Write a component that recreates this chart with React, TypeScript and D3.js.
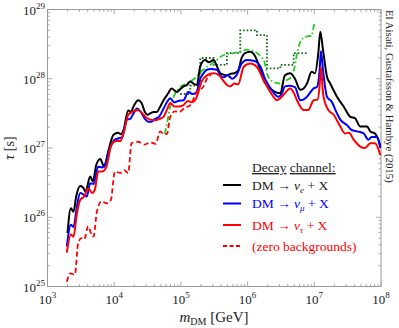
import React from "react"
import * as d3 from "d3"

// log10(m_DM / GeV), log10(tau / s)
const NU_E: [number, number][] = [
  [3.30, 25.77], [3.35, 26.13], [3.39, 26.08], [3.43, 26.30], [3.49, 26.45], [3.54, 26.42],
  [3.57, 26.37], [3.64, 26.59], [3.68, 26.52], [3.73, 26.75], [3.79, 26.84], [3.85, 26.73],
  [3.91, 26.95], [3.99, 27.19], [4.06, 27.22], [4.10, 27.20], [4.14, 27.26], [4.21, 27.54],
  [4.25, 27.52], [4.29, 27.60], [4.36, 27.69], [4.41, 27.65], [4.46, 27.52], [4.50, 27.48],
  [4.54, 27.50], [4.59, 27.52], [4.64, 27.52], [4.68, 27.58], [4.74, 27.69], [4.81, 27.79],
  [4.86, 27.86], [4.94, 27.81], [4.99, 27.85], [5.04, 27.89], [5.09, 27.91], [5.14, 27.96],
  [5.19, 27.93], [5.24, 27.91], [5.29, 28.18], [5.36, 28.27], [5.42, 28.24], [5.49, 28.27],
  [5.54, 28.18], [5.59, 28.08], [5.64, 28.06], [5.69, 28.05], [5.74, 28.07], [5.80, 28.08],
  [5.86, 28.12], [5.91, 28.30], [5.96, 28.37], [6.04, 28.39], [6.11, 28.33], [6.19, 28.13],
  [6.24, 27.98], [6.31, 27.89], [6.41, 27.81], [6.49, 27.79], [6.56, 28.05], [6.64, 28.08],
  [6.71, 28.00], [6.79, 27.84], [6.84, 27.86], [6.89, 27.93], [6.96, 28.10], [7.01, 28.08],
  [7.06, 28.37], [7.09, 28.68], [7.13, 28.42], [7.19, 28.03], [7.24, 27.93], [7.34, 27.74],
  [7.44, 27.60], [7.54, 27.45], [7.61, 27.43], [7.69, 27.31], [7.79, 27.31], [7.84, 27.24],
  [7.91, 27.21], [7.96, 27.12], [7.99, 27.02],
]

const NU_MU: [number, number][] = [
  [3.29, 25.58], [3.35, 25.89], [3.39, 25.86], [3.44, 26.15], [3.49, 26.35], [3.55, 26.32],
  [3.59, 26.30], [3.64, 26.49], [3.69, 26.48], [3.76, 26.73], [3.82, 26.72], [3.87, 26.78],
  [3.94, 27.00], [4.01, 27.12], [4.07, 27.14], [4.12, 27.16], [4.19, 27.41], [4.24, 27.42],
  [4.29, 27.50], [4.34, 27.57], [4.40, 27.52], [4.46, 27.42], [4.51, 27.38], [4.56, 27.38],
  [4.61, 27.42], [4.67, 27.45], [4.74, 27.57], [4.79, 27.66], [4.84, 27.72], [4.90, 27.66],
  [4.96, 27.68], [5.04, 27.69], [5.11, 27.81], [5.17, 27.78], [5.23, 27.80], [5.29, 28.00],
  [5.34, 28.08], [5.39, 28.13], [5.45, 28.14], [5.54, 28.13], [5.59, 28.05], [5.64, 28.02],
  [5.70, 28.05], [5.77, 28.00], [5.84, 28.06], [5.91, 28.22], [5.99, 28.27], [6.09, 28.26],
  [6.19, 28.18], [6.26, 28.00], [6.36, 27.84], [6.46, 27.74], [6.51, 27.78], [6.56, 27.89],
  [6.63, 27.90], [6.71, 27.88], [6.79, 27.69], [6.84, 27.70], [6.89, 27.74], [6.99, 27.86],
  [7.04, 27.88], [7.08, 28.13], [7.10, 28.40], [7.13, 28.13], [7.19, 27.74], [7.26, 27.67],
  [7.34, 27.50], [7.39, 27.41], [7.49, 27.33], [7.56, 27.26], [7.64, 27.24], [7.74, 27.21],
  [7.81, 27.12], [7.86, 27.16], [7.94, 27.16], [7.99, 27.00],
]

const NU_TAU: [number, number][] = [
  [3.29, 25.49], [3.35, 25.75], [3.39, 25.72], [3.44, 26.05], [3.49, 26.25], [3.55, 26.30],
  [3.61, 26.42], [3.67, 26.35], [3.71, 26.40], [3.76, 26.66], [3.82, 26.66], [3.88, 26.72],
  [3.96, 27.05], [4.03, 27.10], [4.09, 27.10], [4.15, 27.25], [4.21, 27.48], [4.27, 27.52],
  [4.36, 27.55], [4.42, 27.50], [4.48, 27.44], [4.54, 27.41], [4.61, 27.40], [4.68, 27.42],
  [4.74, 27.45], [4.79, 27.55], [4.84, 27.65], [4.90, 27.60], [4.96, 27.60], [5.04, 27.62],
  [5.10, 27.68], [5.16, 27.66], [5.23, 27.72], [5.31, 27.96], [5.39, 28.05], [5.49, 28.08],
  [5.56, 28.06], [5.63, 27.98], [5.69, 27.91], [5.74, 27.89], [5.80, 27.93], [5.86, 27.92],
  [5.94, 28.17], [6.04, 28.22], [6.14, 28.17], [6.24, 27.98], [6.34, 27.81], [6.44, 27.69],
  [6.49, 27.72], [6.54, 27.77], [6.64, 27.86], [6.69, 27.80], [6.74, 27.69], [6.84, 27.55],
  [6.91, 27.55], [6.99, 27.69], [7.05, 27.70], [7.08, 27.90], [7.10, 28.17], [7.13, 27.80],
  [7.15, 27.69], [7.21, 27.55], [7.29, 27.48], [7.39, 27.31], [7.46, 27.21], [7.52, 27.22],
  [7.59, 27.12], [7.69, 27.02], [7.76, 27.00], [7.84, 27.07], [7.91, 27.07], [7.99, 26.90],
]

const NU_TAU_ZERO_BG: [number, number][] = [
  [3.29, 25.07], [3.34, 25.19], [3.41, 25.17], [3.46, 25.63], [3.51, 25.70], [3.55, 25.68],
  [3.61, 25.87], [3.66, 25.75], [3.69, 25.72], [3.74, 26.08], [3.81, 26.23], [3.89, 26.20],
  [3.95, 26.25], [4.01, 26.66], [4.09, 26.64], [4.15, 26.68], [4.21, 26.64], [4.26, 27.07],
  [4.36, 27.09], [4.45, 27.05], [4.55, 27.08], [4.62, 27.06], [4.69, 27.24], [4.74, 27.20],
  [4.79, 27.20], [4.84, 27.45], [4.91, 27.53], [4.97, 27.52], [5.06, 27.58], [5.14, 27.62],
  [5.24, 27.81], [5.34, 27.89], [5.39, 28.00], [5.45, 28.05],
]

const OTHER_LIGHT: [number, number][] = [
  [4.76, 27.20], [4.80, 27.40], [4.84, 27.60], [4.90, 27.76], [4.99, 27.88], [5.10, 27.94],
  [5.20, 28.00], [5.29, 28.09], [5.40, 28.18], [5.50, 28.24], [5.60, 28.32], [5.70, 28.36],
  [5.80, 28.37], [5.90, 28.40], [5.99, 28.42], [6.09, 28.40], [6.19, 28.33], [6.25, 28.25],
  [6.30, 28.05], [6.36, 27.97], [6.43, 27.94], [6.50, 27.93], [6.56, 27.97], [6.65, 28.02],
  [6.70, 28.15], [6.75, 28.40], [6.80, 28.55], [6.88, 28.61], [6.96, 28.62], [6.99, 28.75],
  [7.01, 28.82],
]

const OTHER_DARK: [number, number][] = [
  [4.99, 27.78], [5.14, 27.90], [5.29, 28.30], [5.49, 28.20], [5.69, 28.37], [5.89, 28.70],
  [6.14, 28.63], [6.29, 28.15], [6.49, 28.20], [6.69, 28.37], [6.89, 28.37],
]

const X_EXPONENTS = [3, 4, 5, 6, 7, 8]
const Y_EXPONENTS = [25, 26, 27, 28, 29]

const LEGEND = [
  { sub: "e", color: "#000000" },
  { sub: "μ", color: "#0000ff" },
  { sub: "τ", color: "#ff0000" },
]

const W = 399
const H = 328
const FONT = "'Liberation Serif', 'DejaVu Serif', serif"
const FRAME = "#999"

export default function App() {
  const x = d3.scaleLog().domain([1e3, 1e8]).range([47.5, 381])
  const y = d3.scaleLog().domain([1e25, 1e29]).range([286.5, 9.5])
  const [x0, x1] = x.range()
  const [y0, y1] = y.range()

  const line = d3
    .line<[number, number]>()
    .x(d => x(10 ** d[0]))
    .y(d => y(10 ** d[1]))
    .curve(d3.curveMonotoneX)
  const step = d3
    .line<[number, number]>()
    .x(d => x(10 ** d[0]))
    .y(d => y(10 ** d[1]))
    .curve(d3.curveStepAfter)

  // minor + major ticks for both log axes
  const xTicks: { v: number; major: boolean }[] = []
  for (let e = 3; e < 8; e++)
    for (let k = 1; k < 10; k++) xTicks.push({ v: k * 10 ** e, major: k === 1 })
  xTicks.push({ v: 1e8, major: true })
  const yTicks: { v: number; major: boolean }[] = []
  for (let e = 25; e < 29; e++)
    for (let k = 1; k < 10; k++) yTicks.push({ v: k * 10 ** e, major: k === 1 })
  yTicks.push({ v: 1e29, major: true })

  const legX = 223
  const legTextX = 252

  return (
    <svg
      width={W}
      height={H}
      style={{ position: "absolute", left: 0, top: 0, background: "#fff" }}
      fontFamily={FONT}
    >
      {/* frame */}
      <rect x={x0} y={y1} width={x1 - x0} height={y0 - y1} fill="none" stroke={FRAME} strokeWidth={1} />
      {xTicks.map(t => {
        const len = t.major ? 5 : 2.5
        const px = x(t.v)
        return (
          <g key={"xt" + t.v} stroke={FRAME} strokeWidth={0.8}>
            <line x1={px} x2={px} y1={y0} y2={y0 - len} />
            <line x1={px} x2={px} y1={y1} y2={y1 + len} />
          </g>
        )
      })}
      {yTicks.map(t => {
        const len = t.major ? 5 : 2.5
        const py = y(t.v)
        return (
          <g key={"yt" + t.v} stroke={FRAME} strokeWidth={0.8}>
            <line x1={x0} x2={x0 + len} y1={py} y2={py} />
            <line x1={x1} x2={x1 - len} y1={py} y2={py} />
          </g>
        )
      })}

      {/* tick labels */}
      {X_EXPONENTS.map(e => (
        <text key={"xl" + e} x={x(10 ** e)} y={304} fontSize={13} textAnchor="middle" fill="#222">
          10<tspan dy={-6} fontSize={9}>{e}</tspan>
        </text>
      ))}
      {Y_EXPONENTS.map(e => (
        <text key={"yl" + e} x={45} y={y(10 ** e) + 5} fontSize={13} textAnchor="end" fill="#222">
          10<tspan dy={-6} fontSize={9}>{e}</tspan>
        </text>
      ))}

      {/* axis titles */}
      <text x={214} y={322} fontSize={15} textAnchor="middle" fill="#222">
        <tspan fontStyle="italic">m</tspan>
        <tspan fontSize={10} dy={3}>DM</tspan>
        <tspan dy={-3}> [GeV]</tspan>
      </text>
      <text transform="translate(14,148) rotate(-90)" fontSize={14} textAnchor="middle" fill="#222">
        <tspan fontStyle="italic">τ</tspan> [s]
      </text>

      {/* curves */}
      <g fill="none">
        <path d={step(OTHER_DARK) ?? ""} stroke="#116611" strokeWidth={1.8} strokeDasharray="1.6,2" />
        <path d={line(OTHER_LIGHT) ?? ""} stroke="#22cc22" strokeWidth={1.8} strokeDasharray="6,2.5,1.5,2.5" />
        <path d={line(NU_E) ?? ""} stroke="#000" strokeWidth={2} />
        <path d={line(NU_MU) ?? ""} stroke="#0000ff" strokeWidth={2} />
        <path d={line(NU_TAU) ?? ""} stroke="#ff0000" strokeWidth={2} />
        <path d={line(NU_TAU_ZERO_BG) ?? ""} stroke="#ff0000" strokeWidth={1.8} strokeDasharray="5,3" />
      </g>

      {/* legend */}
      <text x={legTextX} y={172} fontSize={13.5} fill="#222">
        <tspan style={{ textDecoration: "underline" }}>Decay</tspan>
        <tspan> </tspan>
        <tspan style={{ textDecoration: "underline" }}>channel:</tspan>
      </text>
      {LEGEND.map((l, i) => {
        const ly = [185, 203.5, 225][i]
        return (
          <g key={l.sub}>
            <line x1={legX} x2={legX + 18} y1={ly} y2={ly} stroke={l.color} strokeWidth={2} />
            <text x={legTextX} y={ly + 4.5} fontSize={13.5} fill={l.color === "#000000" ? "#222" : l.color}>
              DM → <tspan fontStyle="italic">ν</tspan>
              <tspan fontSize={9} dy={3} fontStyle="italic">{l.sub}</tspan>
              <tspan dy={-3}> + X</tspan>
            </text>
          </g>
        )
      })}
      <line x1={legX} x2={legX + 18} y1={246} y2={246} stroke="#ff0000" strokeWidth={1.8} strokeDasharray="4,2.5" />
      <text x={legTextX} y={250.5} fontSize={13.5} fill="#ff0000">
        (zero backgrounds)
      </text>

      {/* credit */}
      <text transform="translate(386,10) rotate(90)" fontSize={10.8} fill="#222">
        El Aisati, Gustafsson &amp; Hambye (2015)
      </text>
    </svg>
  )
}
